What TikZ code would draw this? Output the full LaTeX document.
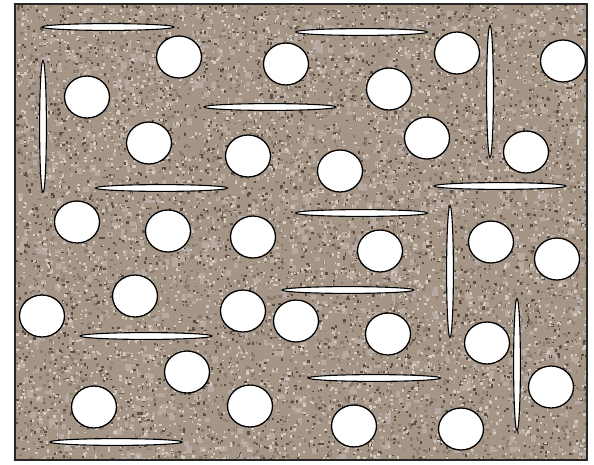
\documentclass[tikz,border=0pt]{standalone}
\usepackage{xcolor}
\usepackage{tikz}
\usetikzlibrary{calc}
\definecolor{granite}{HTML}{A49586}
\definecolor{granitedark}{HTML}{5A4C43}
\definecolor{granitemid}{HTML}{8A7B6E}
\definecolor{granitelight}{HTML}{D6CBBF}
\definecolor{granitepink}{HTML}{B8A9A3}

\begin{document}
\begin{tikzpicture}[
    x=1pt, y=-1pt,
    pore/.style={draw=black, fill=white, line width=1.3pt},
    fibre/.style={draw=black, fill=white, line width=1.1pt},
    frame/.style={draw=black!85, line width=1.3pt}
]
\useasboundingbox (0,0) rectangle (594,464);

% speckled matrix
\begin{scope}
\clip (15,4) rectangle (587,460);
\fill[granite] (15,4) rectangle (587,460);
\pgfmathsetseed{4217}
\foreach \i in {1,...,1400}
    \fill[granitepink] ({15+572*rnd},{4+456*rnd}) rectangle ++({3+4*rnd},{3+4*rnd});
\foreach \i in {1,...,3200}
    \fill[granitemid] ({15+572*rnd},{4+456*rnd}) rectangle ++({1.5+2*rnd},{1.5+2*rnd});
\foreach \i in {1,...,2900}
    \fill[granitedark] ({15+572*rnd},{4+456*rnd}) rectangle ++({1.2+1.6*rnd},{1.2+1.6*rnd});
\foreach \i in {1,...,3800}
    \fill[granitelight] ({15+572*rnd},{4+456*rnd}) rectangle ++({1.2+1.6*rnd},{1.2+1.6*rnd});
\end{scope}
\draw[frame] (15,4) rectangle (587,460);

% horizontal fibres
\foreach \x/\y in {108/27, 361.5/32, 270/107, 161.5/188, 500/186, 361.5/213,
                   348/290, 146/336, 374.5/378, 116/442}
    \draw[fibre] (\x,\y) ellipse [x radius=66, y radius=3.4];

% vertical fibres
\foreach \x/\y in {43/126.5, 490/91.5, 450/271.5, 517/364.5}
    \draw[fibre] (\x,\y) ellipse [x radius=3.4, y radius=66];

% pores
\foreach \x/\y in {179/57, 286/64, 457/53, 563/61,
                   87/97, 389/89,
                   149/143, 248/156, 340/171, 427/138, 526/152,
                   77/222, 168/231, 253/237, 380/251, 491/242, 557/259,
                   135/296, 42/316, 243/311, 296/321, 388/334, 487/343,
                   187/372, 551/387,
                   94/407, 250/406, 354/426, 461/429}
    \draw[pore] (\x,\y) ellipse [x radius=22.5, y radius=21];
\end{tikzpicture}
\end{document}
